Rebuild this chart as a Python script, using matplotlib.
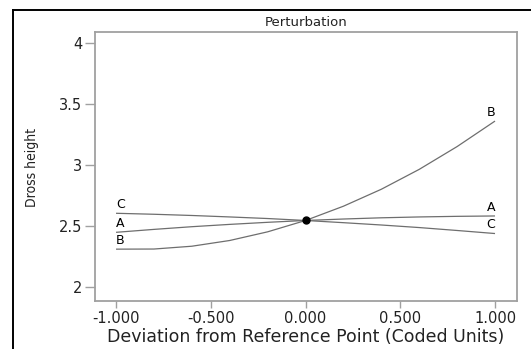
import matplotlib
matplotlib.use("Agg")
import matplotlib.pyplot as plt
from matplotlib.ticker import FixedLocator, FormatStrFormatter
from matplotlib.lines import Line2D
from matplotlib import font_manager as fm

plt.rcParams['axes.unicode_minus'] = False

# ---- data ----
x_dev = [-1.0, -0.8, -0.6, -0.4, -0.2, 0.0, 0.2, 0.4, 0.6, 0.8, 1.0]
y_A = [2.448, 2.472, 2.494, 2.513, 2.530, 2.545, 2.557, 2.567, 2.574, 2.579, 2.582]
y_B = [2.310, 2.311, 2.334, 2.381, 2.452, 2.545, 2.662, 2.801, 2.964, 3.151, 3.360]
y_C = [2.604, 2.596, 2.586, 2.574, 2.561, 2.545, 2.527, 2.508, 2.487, 2.463, 2.438]
ref_point = (0.0, 2.545)
series_names = ["A", "B", "C"]
x_ticks = [-1.0, -0.5, 0.0, 0.5, 1.0]
y_ticks = [2.0, 2.5, 3.0, 3.5, 4.0]
title = "Perturbation"
x_label = "Deviation from Reference Point (Coded Units)"
y_label = "Dross height"

W, H = 531, 349
fig = plt.figure(figsize=(W / 100, H / 100), dpi=100)
fig.patch.set_facecolor("white")

ax = fig.add_axes([95 / W, 1 - 301 / H, (517 - 95) / W, (301 - 32) / H])
ax.set_xlim(-1.111, 1.116)
ax.set_ylim(1.885, 4.09)

line_color = "#6e6e6e"
series = {"A": y_A, "B": y_B, "C": y_C}
for name in series_names:
    ys = series[name]
    ax.plot(x_dev, ys, color=line_color, lw=0.9, solid_capstyle="butt")
    ax.annotate(name, (x_dev[0], ys[0]), xytext=(0, 1.5), textcoords="offset points",
                ha="left", va="bottom", fontsize=9, color="black", family="DejaVu Sans")
    ax.annotate(name, (x_dev[-1], ys[-1]), xytext=(0, 1.5), textcoords="offset points",
                ha="right", va="bottom", fontsize=9, color="black", family="DejaVu Sans")

ax.plot([ref_point[0]], [ref_point[1]], "o", color="black", ms=5, zorder=5)

spine_color = "#a0a0a0"
for s in ax.spines.values():
    s.set_color(spine_color)
    s.set_linewidth(1.3)

ax.xaxis.set_major_locator(FixedLocator(x_ticks))
ax.yaxis.set_major_locator(FixedLocator(y_ticks))
ax.xaxis.set_major_formatter(FormatStrFormatter("%.3f"))
ax.yaxis.set_major_formatter(FormatStrFormatter("%g"))
ax.tick_params(axis="both", direction="out", color=spine_color, width=1.0,
               labelsize=10.5, labelcolor="#222222")
ax.tick_params(axis="x", length=5, pad=2)
ax.tick_params(axis="y", length=7, pad=2)

ax.set_title(title, fontsize=9.5, pad=4, color="#222222")
ax.set_xlabel(x_label, fontsize=12.5, color="#222222", va="center")
ax.xaxis.set_label_coords(0.5, (301 - 337) / (301 - 32))

# choose a narrow family for the y label if one is installed
names = {f.name for f in fm.fontManager.ttflist}
narrow = None
for cand in ["Liberation Sans Narrow", "DejaVu Sans Condensed"]:
    if cand in names:
        narrow = cand
        break
if narrow is not None:
    ax.set_ylabel(y_label, fontsize=10, color="#222222", family=[narrow, "DejaVu Sans"])
else:
    ax.set_ylabel(y_label, fontsize=10, color="#222222",
                  family="DejaVu Sans", fontstretch="condensed")
ax.yaxis.set_label_coords((32 - 95) / (517 - 95), (301 - 167) / (301 - 32))
ax.yaxis.label.set_va("center")

# outer black frame (top and left edges visible)
top_y = 1 - 10 / H
left_x = 13 / W
fig.add_artist(Line2D([left_x, 1.01], [top_y, top_y], transform=fig.transFigure,
                      color="black", lw=1.4))
fig.add_artist(Line2D([left_x, left_x], [-0.01, top_y], transform=fig.transFigure,
                      color="black", lw=1.4))

fig.savefig("out.png", dpi=100, facecolor="white")
